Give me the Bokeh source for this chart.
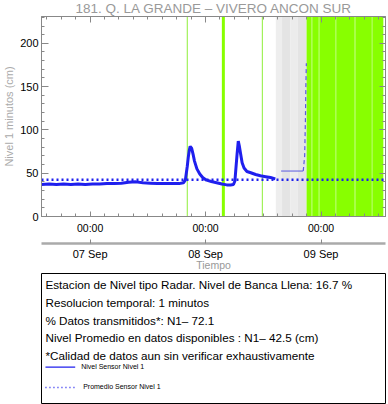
import pandas as pd
from bokeh.plotting import figure
from bokeh.layouts import column
from bokeh.models import (Range1d, DatetimeAxis, LinearAxis, FixedTicker,
                          SingleIntervalTicker, DatetimeTickFormatter)
from bokeh.core.properties import value
from bokeh.embed import file_html
from bokeh.resources import INLINE

# ---------------- data ----------------
BASE = pd.Timestamp("2023-09-06 00:00")
title_text = "181. Q. LA GRANDE \u2013 VIVERO ANCON SUR"
x_start_h, x_end_h = 13.9, 85.4      # hours after 06 Sep 00:00
y_min, y_max = 0, 231

# Nivel sensor 1 (hours after 06 Sep 00:00, cm)
level_h = [13.9, 15.5, 17.0, 18.5, 20.0, 21.5, 23.0, 24.5, 26.0, 27.5, 29.0,
           30.5, 32.0, 33.5, 35.0, 36.5, 38.0, 39.5, 41.0, 42.5, 43.4, 43.8,
           44.2, 44.4, 44.6, 44.8, 45.1, 45.4, 45.7, 46.2, 46.8, 47.4, 48.2,
           49.2, 50.3, 51.4, 52.4, 53.2, 53.8, 54.1, 54.3, 54.55, 54.8, 55.0,
           55.3, 55.6, 56.0, 56.6, 57.4, 58.4, 59.4, 60.5, 61.5, 62.5]
level_cm = [37.0, 37.5, 37.0, 37.5, 37.0, 37.5, 37.0, 37.5, 37.5, 38.0, 38.0,
            38.5, 39.5, 40.0, 39.0, 38.5, 38.0, 38.0, 38.0, 38.0, 39.0, 42.0,
            58.0, 68.0, 76.0, 81.0, 79.0, 72.0, 64.0, 55.0, 49.0, 45.0, 42.0,
            40.5, 39.0, 37.5, 36.5, 36.5, 37.0, 41.0, 55.0, 72.0, 87.0, 82.0,
            72.0, 62.0, 56.0, 52.0, 50.5, 48.5, 47.0, 46.0, 45.0, 43.5]

# thin trailing record
tail_h = [63.7, 68.3]
tail_cm = [52.5, 52.5]
rise_h = [68.3, 68.6, 68.75, 68.85, 68.95]
rise_cm = [52.5, 70.0, 110.0, 150.0, 177.0]

mean_level = 42.5

# events / availability
marker_h = [44.2, 51.7, 59.8]
marker_w = [1, 3, 1]
grey_left = [62.6, 63.9, 65.6, 67.2]
grey_right = [63.9, 65.6, 67.2, 69.0]
grey_col = ["#eeeeee", "#e4e4e4", "#ececec", "#e4e4e4"]
green_left = [69.0, 70.0, 70.3, 71.4, 71.7, 75.0, 75.3, 78.9, 79.2, 82.4, 82.7]
green_right = [70.0, 70.3, 71.4, 71.7, 75.0, 75.3, 78.9, 79.2, 82.4, 82.7, 84.95]
green_col = ["#88ff00", "#96ff22", "#88ff00", "#96ff22", "#88ff00", "#96ff22",
             "#88ff00", "#96ff22", "#88ff00", "#96ff22", "#88ff00"]

day_ticks_h = [24, 48, 72]
minor_ticks_h = list(range(15, 85, 3))
y_interval = 50

info_lines = ["Estacion de Nivel tipo Radar. Nivel de Banca Llena: 16.7 %",
              "Resolucion temporal: 1 minutos",
              "% Datos transmitidos*: N1\u2013 72.1",
              "Nivel Promedio en datos disponibles : N1\u2013 42.5 (cm)",
              "*Calidad de datos aun sin verificar exhaustivamente"]
legend_labels = ["Nivel Sensor Nivel 1", "Promedio Sensor Nivel 1"]


def T(h):
    return BASE + pd.to_timedelta(h, unit="h")


def ms(h):
    return T(h).value / 1e6


FONT = value("Liberation Sans")
AX = "#888888"
BLUE = "#1f1fee"
LB, RB = 38, 3        # left / right borders shared by all three panels

# ---------------- title ----------------
tf = figure(width=388, height=16, x_range=Range1d(LB, 388 - RB),
            y_range=Range1d(16, 0),
            x_axis_type=None, y_axis_type=None, toolbar_location=None,
            output_backend="svg", min_border_left=LB, min_border_right=RB,
            min_border_top=0, min_border_bottom=0, outline_line_color=None)
tf.text(x=[212], y=[8], text=[title_text], text_align="center",
        text_baseline="middle", text_font=FONT, text_font_size="13.5px",
        text_color="#999999")

# ---------------- main chart ----------------
p = figure(width=388, height=257, x_axis_type="datetime",
           x_range=Range1d(T(x_start_h), T(x_end_h)),
           y_range=Range1d(y_min, y_max),
           min_border_left=LB, min_border_right=RB, min_border_top=0,
           min_border_bottom=54, toolbar_location=None,
           output_backend="svg", outline_line_color=AX)
p.xgrid.visible = False
p.ygrid.visible = False

p.quad(left=[T(v) for v in grey_left], right=[T(v) for v in grey_right],
       bottom=y_min, top=y_max + 50, fill_color=grey_col, line_color=None)
p.quad(left=[T(v) for v in green_left], right=[T(v) for v in green_right],
       bottom=y_min, top=y_max + 50, fill_color=green_col, line_color=None)
p.segment(x0=[T(v) for v in marker_h], y0=y_min, x1=[T(v) for v in marker_h],
          y1=y_max + 50, line_width=marker_w,
          line_color=["#8fee3a", "#88ff00", "#8fee3a"])

p.line(x=[T(x_start_h), T(x_end_h)], y=[mean_level, mean_level],
       line_color=BLUE, line_width=2.5, line_dash="2 3")
p.line(x=[T(v) for v in level_h], y=level_cm, line_color=BLUE, line_width=3)
p.line(x=[T(v) for v in tail_h], y=tail_cm, line_color="#5a5ae0",
       line_width=1)
p.line(x=[T(v) for v in rise_h], y=rise_cm, line_color="#5a5ae0",
       line_width=1.2, line_dash="4 3")

fmt_time = DatetimeTickFormatter(days="%H:%M", hours="%H:%M",
                                 hourmin="%H:%M", months="%H:%M")
fmt_day = DatetimeTickFormatter(days="%d %b", hours="%d %b",
                                hourmin="%d %b", months="%d %b")

xa = p.xaxis[0]
xa.ticker = FixedTicker(ticks=[ms(v) for v in day_ticks_h],
                        minor_ticks=[ms(v) for v in minor_ticks_h])
xa.formatter = fmt_time
xa.major_tick_in = 5
xa.major_tick_out = 0
xa.minor_tick_in = 3
xa.minor_tick_out = 0
xa.axis_line_color = AX
xa.major_tick_line_color = AX
xa.minor_tick_line_color = AX
xa.major_label_standoff = 5
xa.major_label_text_font = "Liberation Sans"
xa.major_label_text_font_size = "10.5px"
xa.major_label_text_color = "black"

# spacer axis: a single white (invisible) outward tick opens the gap
spacer = DatetimeAxis(ticker=FixedTicker(ticks=[ms(x_start_h + 0.05)],
                                         minor_ticks=[]),
                      formatter=fmt_time)
spacer.axis_line_color = None
spacer.major_tick_line_color = "white"
spacer.major_tick_in = 0
spacer.major_tick_out = 7
spacer.minor_tick_in = 0
spacer.minor_tick_out = 0
spacer.major_label_standoff = 0
spacer.major_label_text_font_size = "1px"
spacer.major_label_text_alpha = 0
spacer.major_label_text_color = None
p.add_layout(spacer, "below")

xa2 = DatetimeAxis(ticker=FixedTicker(ticks=[ms(v) for v in day_ticks_h],
                                      minor_ticks=[]),
                   formatter=fmt_day, axis_label="Tiempo")
xa2.major_tick_in = 4
xa2.major_tick_out = 0
xa2.minor_tick_in = 0
xa2.minor_tick_out = 0
xa2.axis_line_color = "#aaaaaa"
xa2.axis_line_width = 2.5
xa2.major_tick_line_color = AX
xa2.major_label_standoff = 4
xa2.major_label_text_font = "Liberation Sans"
xa2.major_label_text_font_size = "11px"
xa2.major_label_text_color = "black"
xa2.axis_label_text_font = "Liberation Sans"
xa2.axis_label_text_font_size = "10.5px"
xa2.axis_label_text_font_style = "normal"
xa2.axis_label_text_color = "#999999"
xa2.axis_label_standoff = -4
p.add_layout(xa2, "below")

ya = p.yaxis[0]
ya.ticker = SingleIntervalTicker(interval=y_interval, num_minor_ticks=5)
ya.major_tick_in = 7
ya.major_tick_out = 0
ya.minor_tick_in = 3
ya.minor_tick_out = 0
ya.axis_line_color = AX
ya.major_tick_line_color = AX
ya.minor_tick_line_color = AX
ya.major_label_standoff = 3
ya.major_label_text_font = "Liberation Sans"
ya.major_label_text_font_size = "11px"
ya.major_label_text_color = "black"
ya.axis_label = "Nivel 1 minutos (cm)"
ya.axis_label_text_font = "Liberation Sans"
ya.axis_label_text_font_size = "11px"
ya.axis_label_text_font_style = "normal"
ya.axis_label_text_color = "#aaaaaa"
ya.axis_label_standoff = 2

# tick-only axes on the right and top (labels not painted)
ra = LinearAxis(ticker=SingleIntervalTicker(interval=y_interval,
                                            num_minor_ticks=5))
ta = DatetimeAxis(ticker=FixedTicker(ticks=[ms(v) for v in day_ticks_h],
                                     minor_ticks=[ms(v) for v in minor_ticks_h]),
                  formatter=fmt_time)
for ax in (ra, ta):
    ax.major_label_text_font_size = "1px"
    ax.major_label_text_alpha = 0
    ax.major_label_text_color = None
    ax.major_label_standoff = 0
    ax.major_tick_in = 6
    ax.major_tick_out = 0
    ax.minor_tick_in = 3
    ax.minor_tick_out = 0
    ax.axis_line_color = AX
    ax.major_tick_line_color = AX
    ax.minor_tick_line_color = AX
p.add_layout(ra, "right")
p.add_layout(ta, "above")

# ---------------- info box ----------------
bf = figure(width=388, height=131, x_range=Range1d(LB, 388 - RB),
            y_range=Range1d(133, 3),
            x_axis_type=None, y_axis_type=None, toolbar_location=None,
            output_backend="svg", min_border_left=LB, min_border_right=RB,
            min_border_top=0, min_border_bottom=1,
            outline_line_color="black", outline_line_width=1)
bf.text(x=[42] * len(info_lines), y=[14, 31.7, 49.5, 67.2, 85],
        text=info_lines, text_baseline="middle", text_font=FONT,
        text_font_size="11.7px", text_color="black")
bf.segment(x0=[42], y0=[96.7], x1=[72], y1=[96.7], line_color=BLUE,
           line_width=1.2)
bf.segment(x0=[42], y0=[117], x1=[72], y1=[117], line_color=BLUE,
           line_width=1.5, line_dash="1 3")
bf.text(x=[78, 80], y=[95.5, 115.5], text=legend_labels,
        text_baseline="middle", text_font=FONT, text_font_size="7px",
        text_color="black")

layout = column(tf, p, bf, spacing=0)
html = file_html(layout, INLINE)
html = html.replace("<head>", "<head><style>html,body{margin:0;padding:0}</style>", 1)
open("out.html", "w").write(html)
